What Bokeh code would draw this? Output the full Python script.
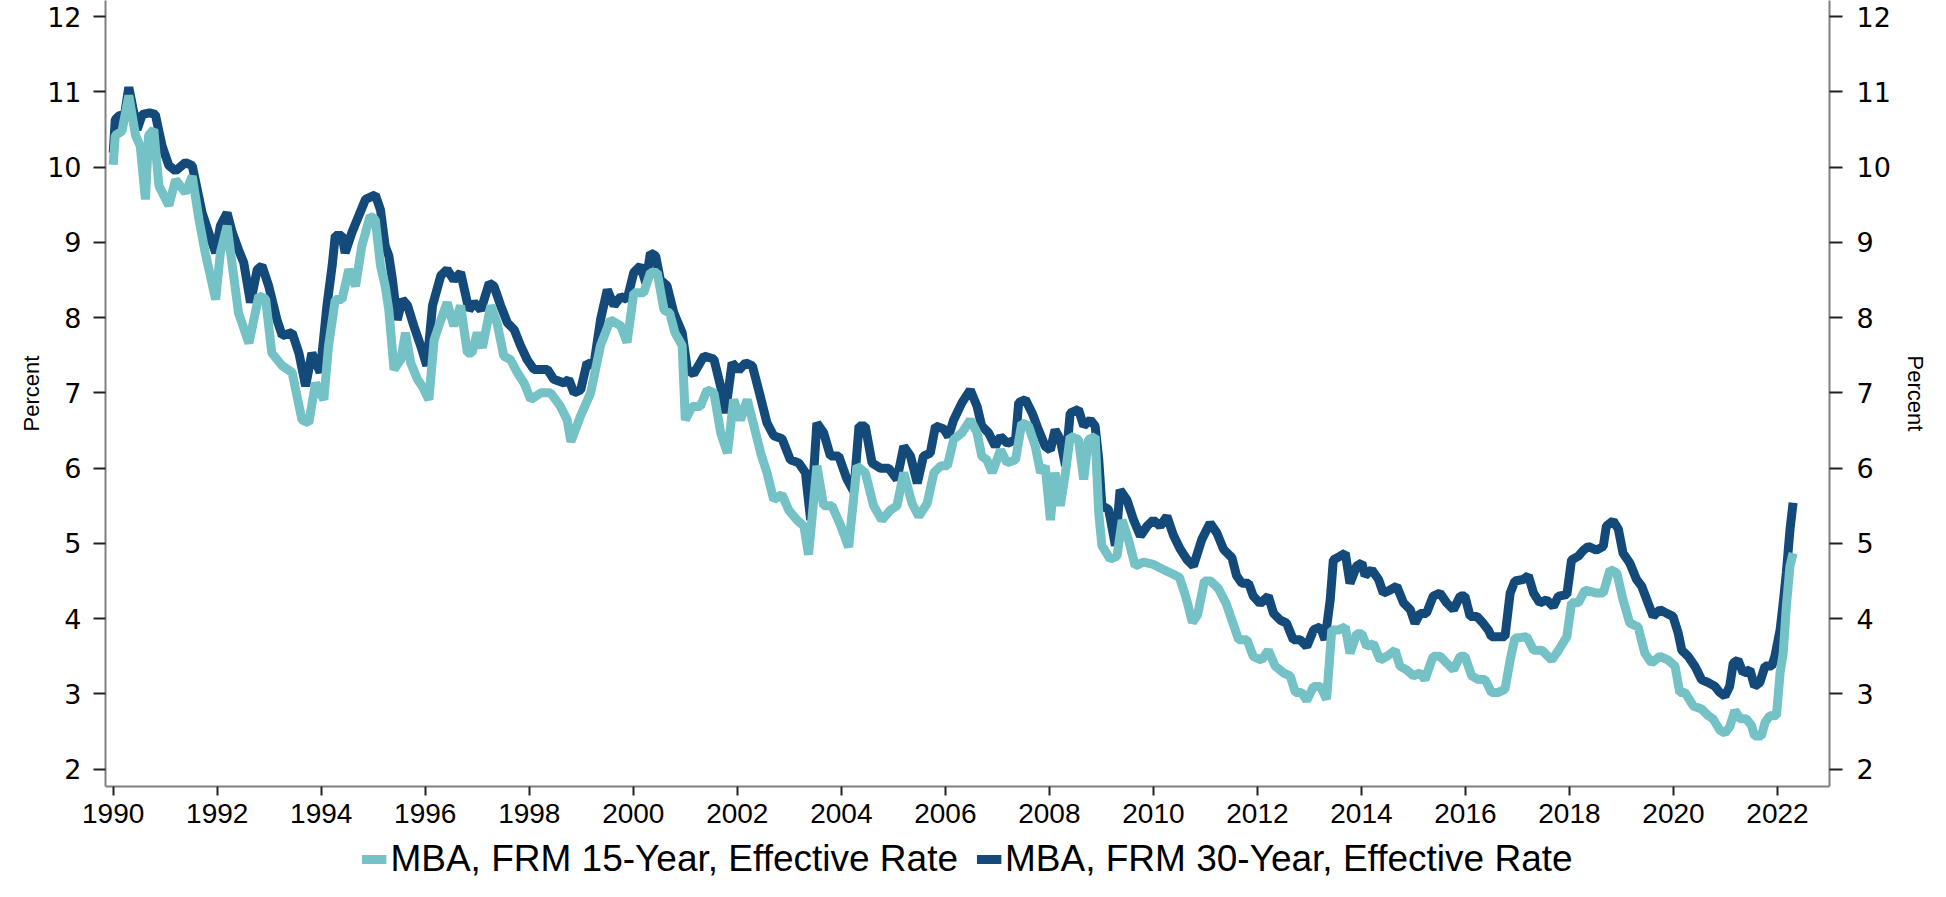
from bokeh.plotting import figure
from bokeh.layouts import column
from bokeh.models import Range1d, LinearAxis, FixedTicker, Legend, LegendItem, ColumnDataSource
from bokeh.embed import file_html
from bokeh.resources import INLINE

# MBA, FRM 30-Year, Effective Rate (decimal year, percent)
years_30 = [1990.00, 1990.04, 1990.11, 1990.22, 1990.30, 1990.46, 1990.56, 1990.70, 1990.81, 1990.94,
            1991.07, 1991.20, 1991.39, 1991.52, 1991.71, 1991.90, 1991.97, 1992.06, 1992.19, 1992.29,
            1992.41, 1992.51, 1992.64, 1992.77, 1992.86, 1992.99, 1993.15, 1993.25, 1993.44, 1993.57,
            1993.70, 1993.82, 1993.98, 1994.11, 1994.21, 1994.27, 1994.40, 1994.46, 1994.59, 1994.72,
            1994.85, 1995.04, 1995.14, 1995.23, 1995.30, 1995.37, 1995.46, 1995.56, 1995.66, 1995.78,
            1995.91, 1996.03, 1996.14, 1996.30, 1996.42, 1996.55, 1996.68, 1996.84, 1996.94, 1997.07,
            1997.23, 1997.32, 1997.45, 1997.58, 1997.71, 1997.83, 1997.96, 1998.09, 1998.22, 1998.35,
            1998.47, 1998.67, 1998.76, 1998.86, 1998.99, 1999.11, 1999.24, 1999.37, 1999.50, 1999.63,
            1999.76, 1999.88, 2000.01, 2000.14, 2000.24, 2000.33, 2000.43, 2000.52, 2000.65, 2000.78,
            2000.94, 2001.04, 2001.16, 2001.36, 2001.55, 2001.71, 2001.77, 2001.90, 2002.03, 2002.16,
            2002.29, 2002.41, 2002.57, 2002.70, 2002.86, 2003.02, 2003.18, 2003.31, 2003.41, 2003.53,
            2003.66, 2003.79, 2003.95, 2004.11, 2004.24, 2004.34, 2004.46, 2004.59, 2004.75, 2004.91,
            2005.07, 2005.20, 2005.33, 2005.46, 2005.58, 2005.71, 2005.81, 2005.97, 2006.06, 2006.16,
            2006.32, 2006.48, 2006.61, 2006.70, 2006.83, 2006.96, 2007.06, 2007.19, 2007.35, 2007.41,
            2007.54, 2007.67, 2007.79, 2007.92, 2008.02, 2008.11, 2008.21, 2008.31, 2008.40, 2008.56,
            2008.66, 2008.79, 2008.88, 2008.95, 2009.01, 2009.14, 2009.27, 2009.36, 2009.49, 2009.62,
            2009.75, 2009.88, 2010.00, 2010.13, 2010.26, 2010.39, 2010.52, 2010.64, 2010.77, 2010.93,
            2011.09, 2011.22, 2011.35, 2011.51, 2011.60, 2011.70, 2011.83, 2011.92, 2012.05, 2012.21,
            2012.31, 2012.44, 2012.56, 2012.69, 2012.82, 2012.95, 2013.08, 2013.21, 2013.30, 2013.40,
            2013.46, 2013.59, 2013.69, 2013.78, 2013.91, 2014.01, 2014.07, 2014.20, 2014.33, 2014.42,
            2014.55, 2014.68, 2014.81, 2014.94, 2015.03, 2015.13, 2015.25, 2015.38, 2015.51, 2015.64,
            2015.77, 2015.90, 2015.99, 2016.09, 2016.22, 2016.34, 2016.44, 2016.50, 2016.63, 2016.76,
            2016.86, 2016.95, 2017.11, 2017.21, 2017.31, 2017.43, 2017.56, 2017.69, 2017.79, 2017.95,
            2018.04, 2018.17, 2018.27, 2018.36, 2018.52, 2018.65, 2018.71, 2018.84, 2018.94, 2019.03,
            2019.16, 2019.29, 2019.39, 2019.51, 2019.61, 2019.74, 2019.87, 2019.99, 2020.09, 2020.16,
            2020.28, 2020.41, 2020.54, 2020.67, 2020.80, 2020.89, 2020.99, 2021.08, 2021.15, 2021.24,
            2021.34, 2021.47, 2021.56, 2021.66, 2021.76, 2021.89, 2021.95, 2022.05, 2022.11, 2022.17,
            2022.24, 2022.30]
rate_30 = [10.19, 10.63, 10.68, 10.70, 11.06, 10.50, 10.70, 10.72, 10.70, 10.28,
           10.02, 9.95, 10.06, 10.02, 9.39, 9.00, 8.86, 9.22, 9.39, 9.13,
           8.90, 8.73, 8.20, 8.64, 8.69, 8.42, 7.97, 7.76, 7.80, 7.53,
           7.09, 7.53, 7.27, 8.16, 8.69, 9.09, 9.09, 8.86, 9.13, 9.35,
           9.57, 9.63, 9.43, 8.95, 8.82, 8.50, 7.97, 8.24, 8.16, 7.89,
           7.63, 7.36, 8.16, 8.56, 8.64, 8.50, 8.60, 8.10, 8.20, 8.10,
           8.46, 8.42, 8.16, 7.93, 7.84, 7.63, 7.44, 7.31, 7.31, 7.31,
           7.18, 7.13, 7.18, 7.00, 7.04, 7.40, 7.36, 7.97, 8.37, 8.16,
           8.28, 8.24, 8.60, 8.69, 8.46, 8.86, 8.82, 8.50, 8.42, 8.06,
           7.80, 7.31, 7.25, 7.49, 7.45, 7.00, 6.73, 7.40, 7.30, 7.40,
           7.36, 7.04, 6.60, 6.43, 6.39, 6.11, 6.07, 5.94, 5.31, 6.60,
           6.47, 6.16, 6.16, 5.85, 5.69, 6.56, 6.56, 6.07, 6.00, 6.00,
           5.85, 6.29, 6.16, 5.80, 6.16, 6.20, 6.56, 6.52, 6.42, 6.64,
           6.87, 7.04, 6.82, 6.56, 6.47, 6.29, 6.42, 6.33, 6.38, 6.87,
           6.91, 6.73, 6.51, 6.29, 6.24, 6.51, 6.38, 6.03, 6.73, 6.78,
           6.56, 6.64, 6.56, 6.11, 5.50, 5.45, 4.97, 5.71, 5.58, 5.31,
           5.10, 5.23, 5.31, 5.23, 5.36, 5.10, 4.92, 4.79, 4.70, 5.05,
           5.27, 5.14, 4.92, 4.81, 4.57, 4.47, 4.47, 4.30, 4.20, 4.30,
           4.07, 3.98, 3.94, 3.72, 3.72, 3.63, 3.85, 3.89, 3.72, 4.25,
           4.78, 4.83, 4.87, 4.47, 4.70, 4.74, 4.57, 4.65, 4.52, 4.34,
           4.38, 4.43, 4.21, 4.12, 3.94, 4.07, 4.07, 4.30, 4.34, 4.21,
           4.12, 4.30, 4.30, 4.03, 4.03, 3.94, 3.85, 3.76, 3.76, 3.76,
           4.34, 4.50, 4.52, 4.57, 4.34, 4.21, 4.25, 4.16, 4.30, 4.32,
           4.78, 4.83, 4.91, 4.96, 4.91, 4.96, 5.23, 5.30, 5.19, 4.87,
           4.74, 4.52, 4.43, 4.21, 4.03, 4.12, 4.07, 4.03, 3.81, 3.58,
           3.50, 3.37, 3.19, 3.15, 3.10, 3.02, 2.97, 3.10, 3.41, 3.45,
           3.28, 3.32, 3.10, 3.15, 3.37, 3.37, 3.50, 3.85, 4.21, 4.61,
           5.18, 5.54]

# MBA, FRM 15-Year, Effective Rate (decimal year, percent)
years_15 = [1990.00, 1990.04, 1990.17, 1990.30, 1990.43, 1990.52, 1990.62, 1990.68, 1990.78, 1990.88,
            1991.07, 1991.20, 1991.39, 1991.52, 1991.65, 1991.77, 1991.97, 1992.06, 1992.19, 1992.29,
            1992.41, 1992.61, 1992.80, 1992.93, 1993.05, 1993.25, 1993.44, 1993.63, 1993.76, 1993.89,
            1994.05, 1994.14, 1994.27, 1994.40, 1994.53, 1994.66, 1994.78, 1994.94, 1995.04, 1995.14,
            1995.23, 1995.30, 1995.40, 1995.53, 1995.62, 1995.72, 1995.85, 1995.94, 1996.07, 1996.17,
            1996.30, 1996.42, 1996.55, 1996.68, 1996.81, 1996.90, 1997.00, 1997.10, 1997.26, 1997.38,
            1997.51, 1997.64, 1997.77, 1997.90, 1998.03, 1998.22, 1998.41, 1998.60, 1998.73, 1998.80,
            1998.99, 1999.18, 1999.37, 1999.56, 1999.76, 1999.88, 2000.01, 2000.20, 2000.33, 2000.46,
            2000.59, 2000.70, 2000.80, 2000.94, 2001.00, 2001.13, 2001.29, 2001.42, 2001.55, 2001.68,
            2001.81, 2001.93, 2002.06, 2002.19, 2002.32, 2002.45, 2002.57, 2002.70, 2002.86, 2002.99,
            2003.15, 2003.28, 2003.37, 2003.53, 2003.66, 2003.82, 2003.98, 2004.14, 2004.30, 2004.46,
            2004.62, 2004.78, 2004.94, 2005.07, 2005.20, 2005.36, 2005.49, 2005.65, 2005.78, 2005.91,
            2006.04, 2006.16, 2006.32, 2006.48, 2006.61, 2006.70, 2006.80, 2006.90, 2007.06, 2007.19,
            2007.35, 2007.47, 2007.60, 2007.73, 2007.83, 2007.92, 2008.02, 2008.11, 2008.21, 2008.31,
            2008.40, 2008.56, 2008.66, 2008.75, 2008.88, 2008.95, 2009.01, 2009.17, 2009.30, 2009.40,
            2009.52, 2009.65, 2009.81, 2010.00, 2010.20, 2010.35, 2010.50, 2010.62, 2010.75, 2010.85,
            2010.98, 2011.10, 2011.25, 2011.40, 2011.51, 2011.64, 2011.80, 2011.92, 2012.08, 2012.21,
            2012.34, 2012.50, 2012.63, 2012.73, 2012.85, 2012.95, 2013.08, 2013.21, 2013.33, 2013.43,
            2013.56, 2013.69, 2013.78, 2013.91, 2014.01, 2014.10, 2014.23, 2014.36, 2014.49, 2014.65,
            2014.74, 2014.87, 2015.00, 2015.13, 2015.22, 2015.38, 2015.51, 2015.64, 2015.77, 2015.90,
            2015.99, 2016.12, 2016.25, 2016.38, 2016.50, 2016.63, 2016.76, 2016.86, 2016.95, 2017.18,
            2017.31, 2017.47, 2017.66, 2017.79, 2017.95, 2018.04, 2018.17, 2018.30, 2018.52, 2018.65,
            2018.78, 2018.91, 2019.03, 2019.16, 2019.32, 2019.45, 2019.58, 2019.74, 2019.90, 2020.03,
            2020.12, 2020.22, 2020.38, 2020.54, 2020.67, 2020.76, 2020.89, 2020.99, 2021.08, 2021.18,
            2021.28, 2021.40, 2021.50, 2021.56, 2021.69, 2021.76, 2021.85, 2021.98, 2022.05, 2022.11,
            2022.17, 2022.24, 2022.30]
rate_15 = [10.03, 10.42, 10.48, 10.95, 10.42, 10.28, 9.57, 10.42, 10.50, 9.75,
           9.49, 9.83, 9.66, 9.88, 9.30, 8.86, 8.24, 8.86, 9.22, 8.69,
           8.06, 7.66, 8.29, 8.25, 7.53, 7.36, 7.27, 6.64, 6.60, 7.13,
           6.91, 7.62, 8.24, 8.24, 8.64, 8.42, 8.95, 9.35, 9.30, 8.69,
           8.42, 8.10, 7.31, 7.44, 7.80, 7.40, 7.18, 7.09, 6.91, 7.70,
           7.97, 8.20, 7.89, 8.16, 7.53, 7.53, 7.80, 7.60, 8.16, 7.93,
           7.49, 7.44, 7.27, 7.13, 6.91, 7.00, 7.00, 6.82, 6.64, 6.35,
           6.70, 7.00, 7.63, 7.97, 7.89, 7.67, 8.33, 8.33, 8.60, 8.60,
           8.10, 8.06, 7.80, 7.63, 6.64, 6.82, 6.82, 7.04, 7.00, 6.47,
           6.20, 6.91, 6.64, 6.91, 6.56, 6.20, 5.94, 5.58, 5.65, 5.44,
           5.31, 5.23, 4.85, 6.03, 5.50, 5.50, 5.25, 4.95, 6.03, 5.94,
           5.50, 5.31, 5.44, 5.50, 5.94, 5.53, 5.36, 5.53, 5.94, 6.03,
           6.03, 6.38, 6.47, 6.64, 6.47, 6.16, 6.11, 5.94, 6.24, 6.07,
           6.11, 6.60, 6.56, 6.29, 5.94, 6.03, 5.31, 5.94, 5.50, 5.94,
           6.42, 6.38, 5.85, 6.38, 6.42, 5.40, 4.97, 4.79, 4.83, 5.31,
           5.05, 4.70, 4.75, 4.72, 4.65, 4.60, 4.55, 4.30, 3.95, 4.05,
           4.50, 4.50, 4.40, 4.20, 3.98, 3.72, 3.72, 3.50, 3.45, 3.58,
           3.37, 3.28, 3.24, 3.02, 3.02, 2.91, 3.10, 3.10, 2.93, 3.85,
           3.85, 3.89, 3.54, 3.80, 3.80, 3.63, 3.67, 3.45, 3.50, 3.58,
           3.37, 3.32, 3.24, 3.28, 3.19, 3.50, 3.50, 3.41, 3.32, 3.50,
           3.50, 3.24, 3.19, 3.19, 3.02, 3.02, 3.06, 3.45, 3.74, 3.76,
           3.58, 3.58, 3.45, 3.58, 3.76, 4.21, 4.21, 4.38, 4.34, 4.34,
           4.65, 4.61, 4.25, 3.94, 3.89, 3.54, 3.41, 3.50, 3.45, 3.37,
           3.02, 3.02, 2.84, 2.80, 2.71, 2.67, 2.52, 2.48, 2.56, 2.78,
           2.67, 2.67, 2.58, 2.44, 2.44, 2.62, 2.71, 2.71, 3.28, 3.54,
           4.16, 4.70, 4.87]

x_tick_years = list(range(1990, 2023, 2))
y_tick_values = list(range(2, 13))
series_labels = ["MBA, FRM 15-Year, Effective Rate", "MBA, FRM 30-Year, Effective Rate"]

DARK = "#134A7A"
LIGHT = "#74C1C6"
FONT = "Liberation Sans"
YFONT = "DejaVu Sans"
LW = 9

p = figure(width=1930, height=837, output_backend="svg", toolbar_location=None,
           x_range=Range1d(1989.852, 2023.0), y_range=Range1d(1.77, 12.213),
           min_border_left=105, min_border_right=100, min_border_top=0, min_border_bottom=51)
p.outline_line_color = None
p.xgrid.grid_line_color = None
p.ygrid.grid_line_color = None
p.background_fill_color = "white"
p.border_fill_color = "white"

src30 = ColumnDataSource(dict(x=years_30, y=rate_30))
src15 = ColumnDataSource(dict(x=years_15, y=rate_15))
r30 = p.line("x", "y", source=src30, line_color=DARK, line_width=LW)
r15 = p.line("x", "y", source=src15, line_color=LIGHT, line_width=LW)

right_axis = LinearAxis()
p.add_layout(right_axis, "right")

for ax in [p.yaxis[0], right_axis]:
    ax.ticker = FixedTicker(ticks=y_tick_values)
    ax.axis_label = "Percent"

p.xaxis[0].ticker = FixedTicker(ticks=x_tick_years)

for ax in [p.xaxis[0], p.yaxis[0], right_axis]:
    ax.axis_line_color = "#808080"
    ax.axis_line_width = 2
    ax.major_tick_line_color = "#222222"
    ax.major_tick_line_width = 2
    ax.major_tick_in = 0
    ax.minor_tick_line_color = None
    ax.major_label_text_font = FONT
    ax.major_label_text_font_size = "28px"
    ax.major_label_text_color = "black"
    ax.axis_label_text_font = FONT
    ax.axis_label_text_font_size = "22px"
    ax.axis_label_text_font_style = "normal"
    ax.axis_label_text_color = "black"

for ax in [p.yaxis[0], right_axis]:
    ax.major_label_text_font = YFONT
    ax.major_label_text_font_size = "27px"

p.xaxis[0].major_tick_out = 9
p.xaxis[0].major_label_standoff = 8
p.yaxis[0].major_tick_out = 12
p.yaxis[0].major_label_standoff = 12
p.yaxis[0].axis_label_standoff = 0
right_axis.major_tick_out = 13
right_axis.major_label_standoff = 14
right_axis.axis_label_standoff = 9

# legend strip below the chart (uses the same series, drawn outside its own view)
lg = figure(width=1930, height=44, output_backend="svg", toolbar_location=None,
            x_axis_location=None, y_axis_location=None,
            x_range=Range1d(0, 1), y_range=Range1d(0, 1),
            min_border_left=0, min_border_right=0, min_border_top=0, min_border_bottom=0)
lg.outline_line_color = None
lg.xgrid.grid_line_color = None
lg.ygrid.grid_line_color = None
lg.background_fill_color = "white"
lg.border_fill_color = "white"
k15 = lg.line("x", "y", source=src15, line_color=LIGHT, line_width=LW)
k30 = lg.line("x", "y", source=src30, line_color=DARK, line_width=LW)

legend = Legend(items=[LegendItem(label=series_labels[0], renderers=[k15]),
                       LegendItem(label=series_labels[1], renderers=[k30])],
                orientation="horizontal", location="center",
                label_text_font=FONT, label_text_font_size="37px", label_text_color="black",
                glyph_width=25, glyph_height=30, spacing=18, padding=0,
                label_standoff=4, margin=0,
                border_line_color=None, background_fill_alpha=0)
lg.add_layout(legend, "center")

layout = column(p, lg, spacing=0)
open("out.html", "w").write(file_html(layout, INLINE))
